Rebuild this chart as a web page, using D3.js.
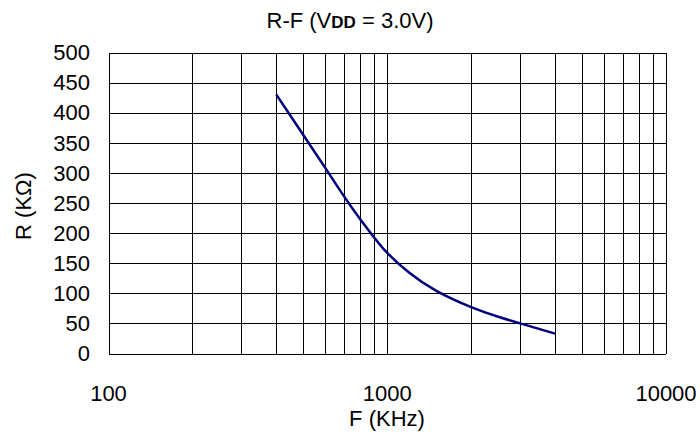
<!DOCTYPE html>
<html>
<head>
<meta charset="utf-8">
<script src="https://cdn.jsdelivr.net/npm/d3@7"></script>
<style>
  body { margin: 0; background: #fff; }
  svg { display: block; font-family: "Liberation Sans", Arial, sans-serif; }
  .grid line { stroke: #000; stroke-width: 1; shape-rendering: crispEdges; }
  .lbl { font-size: 22px; fill: #000; }
</style>
</head>
<body>
<svg id="chart" width="700" height="436"></svg>
<script>
// R-F curve at VDD = 3.0V
var freq = [400, 500, 600, 700, 800, 900, 1000, 1200, 1500, 2000, 2500, 3000, 4000];
var res  = [430, 363, 308, 261, 223, 192, 167, 134, 104, 77, 61, 50, 33];

var x_ticks = [100, 1000, 10000];
var y_ticks = [0, 50, 100, 150, 200, 250, 300, 350, 400, 450, 500];
var x_grid = [200, 300, 400, 500, 600, 700, 800, 900, 1000, 2000, 3000, 4000, 5000, 6000, 7000, 8000, 9000];

var margin = {left: 108.5, right: 666, top: 52.5, bottom: 353.5};

var svg = d3.select("#chart");

var x = d3.scaleLog().domain([100, 10000]).range([margin.left, margin.right]);
var y = d3.scaleLinear().domain([0, 500]).range([margin.bottom, margin.top]);

// grid
var grid = svg.append("g").attr("class", "grid");

grid.selectAll("line.h")
	.data(y_ticks)
	.enter().append("line")
	.attr("class", "h")
	.attr("x1", margin.left)
	.attr("x2", margin.right)
	.attr("y1", function(d){ return Math.round(y(d)) + 0.5; })
	.attr("y2", function(d){ return Math.round(y(d)) + 0.5; });

grid.selectAll("line.v")
	.data(x_grid.concat([100, 10000]))
	.enter().append("line")
	.attr("class", "v")
	.attr("y1", margin.top)
	.attr("y2", margin.bottom)
	.attr("x1", function(d){ return Math.round(x(d)) + 0.5; })
	.attr("x2", function(d){ return Math.round(x(d)) + 0.5; });

// curve
var line = d3.line()
	.x(function(d, i){ return x(freq[i]); })
	.y(function(d, i){ return y(res[i]); })
	.curve(d3.curveNatural);

svg.append("path")
	.datum(res)
	.attr("d", line)
	.attr("fill", "none")
	.attr("stroke", "#000080")
	.attr("stroke-width", 2.5);

// y tick labels
svg.selectAll("text.yt")
	.data(y_ticks)
	.enter().append("text")
	.attr("class", "lbl yt")
	.attr("x", 90)
	.attr("y", function(d){ return y(d); })
	.attr("dy", "0.35em")
	.attr("text-anchor", "end")
	.text(function(d){ return d; });

// x tick labels
svg.selectAll("text.xt")
	.data(x_ticks)
	.enter().append("text")
	.attr("class", "lbl xt")
	.attr("x", function(d){ return x(d); })
	.attr("y", 401)
	.attr("text-anchor", "middle")
	.text(function(d){ return d; });

// axis titles
svg.append("text")
	.attr("class", "lbl")
	.attr("x", 387)
	.attr("y", 426)
	.attr("text-anchor", "middle")
	.text("F (KHz)");

svg.append("text")
	.attr("class", "lbl")
	.attr("transform", "translate(31,206) rotate(-90)")
	.attr("text-anchor", "middle")
	.attr("font-size", "24px")
	.text("R (KΩ)");

// chart title
var title = svg.append("text")
	.attr("class", "lbl")
	.attr("x", 350)
	.attr("y", 28)
	.attr("text-anchor", "middle");
title.append("tspan").text("R-F (V");
title.append("tspan").attr("font-weight", "bold").attr("font-size", "17px").text("DD");
title.append("tspan").text(" = 3.0V)");
</script>
</body>
</html>
